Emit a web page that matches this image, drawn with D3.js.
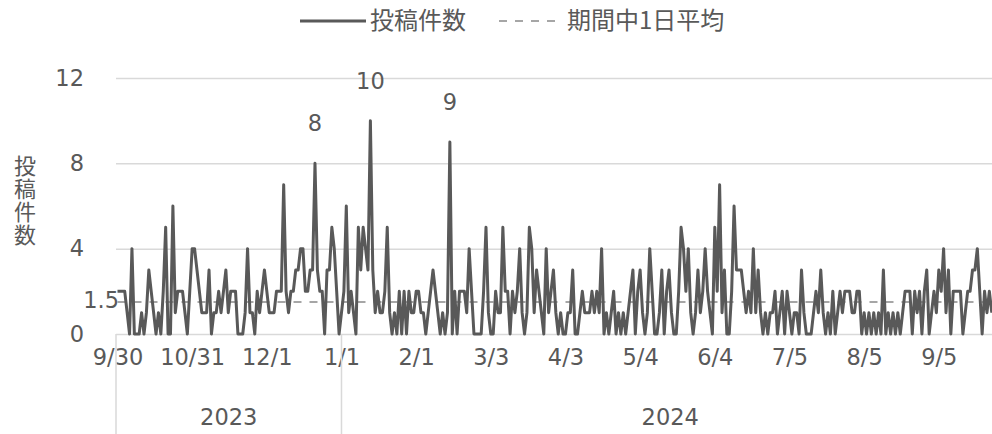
<!DOCTYPE html>
<html>
<head>
<meta charset="utf-8">
<script src="https://cdn.jsdelivr.net/npm/d3@7"></script>
<style>
  body { margin: 0; background: #fff; }
  svg { display: block; }
  text { fill: #595959; }
</style>
</head>
<body>
<svg id="chart" width="992" height="434"></svg>
<script>
// period of the chart (one category per day)
const startDate = "2023-09-30";
const endDate = "2024-09-30";

// daily post counts (from 9/30)
const postCounts = [
  2,2,2,2,1,0,4,0,0,0, 1,0,1,3,2,1,0,1,0,2, 5,0,0,6,1,2,2,2,1,0, 2,4,4,3,2,1,1,1,3,0,
  1,1,2,1,2,3,1,2,2,2, 0,0,0,1,4,1,1,0,2,1, 2,3,2,1,1,1,2,2,2,7, 2,1,2,2,3,3,4,4,2,2,
  3,3,8,3,2,2,0,3,3,5, 4,2,0,1,2,6,1,2,1,0, 5,3,5,4,3,10,3,1,2,1, 1,2,5,1,0,1,0,2,0,2,
  0,2,1,1,2,2,1,1,0,1, 2,3,2,1,0,1,0,1,9,0, 2,0,2,2,2,1,4,2,0,0, 0,0,2,5,1,0,0,2,1,1,
  5,2,2,0,2,1,2,4,1,0, 1,5,4,1,3,2,1,0,4,1, 2,3,1,0,1,0,0,1,1,3, 0,0,1,2,1,1,1,2,1,2,
  1,4,0,1,0,1,2,0,1,0, 1,0,1,2,3,0,2,3,1,0, 1,4,2,0,0,1,3,0,2,3, 1,0,0,2,5,4,2,4,1,0,
  1,3,1,2,4,2,1,0,5,2, 7,1,3,0,0,2,6,3,3,3, 2,1,2,1,4,1,3,1,0,1, 0,1,1,2,0,1,2,0,2,1,
  0,1,1,0,3,1,0,0,0,1, 2,1,3,1,0,1,0,2,0,1, 2,1,2,2,2,1,1,2,2,0, 1,0,1,0,1,0,1,0,3,0,
  1,0,1,0,1,0,1,2,2,2, 0,2,1,2,0,2,3,0,1,2, 1,3,2,4,1,3,0,2,2,2, 2,0,1,2,2,3,3,4,2,0,
  2,1,2,1
];
const dailyAverage = 1.5;

const seriesNames = ["投稿件数", "期間中1日平均"];
const yTitle = "投稿件数";
const yTicks = [0, 4, 8, 12];
const labelEvery = 31;     // one date label per 31 categories
const peakLabelMin = 8;    // data labels only on the big spikes

const svg = d3.select("#chart");
const numFont = "'DejaVu Sans', Verdana, sans-serif";
const jpFont = "'Noto Sans CJK JP', sans-serif";
const numSize = 22.5;

const parse = d3.timeParse("%Y-%m-%d");
const days = d3.timeDay.range(parse(startDate), d3.timeDay.offset(parse(endDate), 1));
const fmt = d3.timeFormat("%-m/%-d");

const plotLeft = 116, plotRight = 992, plotTop = 78, plotBottom = 334;

const x = d3.scalePoint()
  .domain(d3.range(days.length))
  .range([117.5, 999]);

const y = d3.scaleLinear()
  .domain([0, 12])
  .range([plotBottom, plotTop]);

// gridlines
svg.append("g")
  .attr("transform", `translate(${plotLeft},0)`)
  .call(d3.axisRight(y).tickValues(yTicks).tickSize(plotRight - plotLeft).tickFormat(""))
  .call(g => g.select(".domain").remove())
  .call(g => g.selectAll("line").attr("stroke", "#d9d9d9").attr("stroke-width", 1.5));

// y labels
svg.append("g")
  .attr("transform", "translate(84,0)")
  .call(d3.axisLeft(y).tickValues(yTicks).tickSize(0).tickPadding(0))
  .call(g => g.select(".domain").remove())
  .call(g => g.selectAll("text")
    .attr("font-family", numFont).attr("font-size", numSize).attr("fill", "#595959"));

// y title, written vertically
svg.append("text")
  .attr("x", 25)
  .attr("y", 155)
  .attr("font-family", jpFont)
  .attr("font-size", 22)
  .style("writing-mode", "vertical-rl")
  .style("letter-spacing", "1px")
  .text(yTitle);

// x date labels
const tickIdx = d3.range(0, days.length, labelEvery);
svg.append("g")
  .attr("transform", `translate(0,${plotBottom})`)
  .call(d3.axisBottom(x).tickValues(tickIdx).tickSize(0).tickFormat(i => fmt(days[i])))
  .call(g => g.select(".domain").remove())
  .call(g => g.selectAll("text")
    .attr("y", 23).attr("dy", "0.35em")
    .attr("font-family", numFont).attr("font-size", numSize).attr("fill", "#595959"));

// year groups under the dates
const years = d3.groups(d3.range(days.length), i => days[i].getFullYear());
years.forEach(([yr, idx], k) => {
  const x0 = k === 0 ? plotLeft : x(idx[0]);
  const x1 = k === years.length - 1 ? x(idx[idx.length - 1]) : x(years[k + 1][1][0]);
  svg.append("line")
    .attr("x1", x0).attr("x2", x0)
    .attr("y1", plotBottom).attr("y2", 434)
    .attr("stroke", "#d9d9d9").attr("stroke-width", 1.5);
  svg.append("text")
    .attr("x", (x0 + x1) / 2)
    .attr("y", 417)
    .attr("dy", "0.35em")
    .attr("text-anchor", "middle")
    .attr("font-family", numFont)
    .attr("font-size", numSize)
    .text(yr);
});

// average line
svg.append("line")
  .attr("x1", x(0)).attr("x2", x(days.length - 1))
  .attr("y1", y(dailyAverage)).attr("y2", y(dailyAverage))
  .attr("stroke", "#a6a6a6").attr("stroke-width", 2)
  .attr("stroke-dasharray", "8,8");

// post counts line
const line = d3.line()
  .x((d, i) => x(i))
  .y(d => y(d));

svg.append("path")
  .datum(postCounts)
  .attr("d", line)
  .attr("fill", "none")
  .attr("stroke", "#595959")
  .attr("stroke-width", 3)
  .attr("stroke-linejoin", "round");

// labels
svg.append("text")
  .attr("x", 119)
  .attr("y", y(dailyAverage) - 2)
  .attr("dy", "0.35em")
  .attr("text-anchor", "end")
  .attr("font-family", numFont)
  .attr("font-size", numSize)
  .text(dailyAverage);

svg.append("g").selectAll("text")
  .data(postCounts.map((v, i) => ({ v, i })).filter(d => d.v >= peakLabelMin))
  .join("text")
  .attr("x", d => x(d.i))
  .attr("y", d => y(d.v) - 40)
  .attr("dy", "0.35em")
  .attr("text-anchor", "middle")
  .attr("font-family", numFont)
  .attr("font-size", numSize)
  .text(d => d.v);

// legend
const legend = svg.append("g").attr("transform", "translate(0,21)");
legend.append("line")
  .attr("x1", 300).attr("x2", 366)
  .attr("stroke", "#595959").attr("stroke-width", 3);
legend.append("text")
  .attr("x", 370).attr("dy", "0.35em")
  .attr("font-family", jpFont).attr("font-size", 24)
  .text(seriesNames[0]);
legend.append("line")
  .attr("x1", 499).attr("x2", 560)
  .attr("stroke", "#a6a6a6").attr("stroke-width", 2)
  .attr("stroke-dasharray", "8,8");
legend.append("text")
  .attr("x", 567).attr("dy", "0.35em")
  .attr("font-family", jpFont).attr("font-size", 24)
  .text(seriesNames[1]);
</script>
</body>
</html>
